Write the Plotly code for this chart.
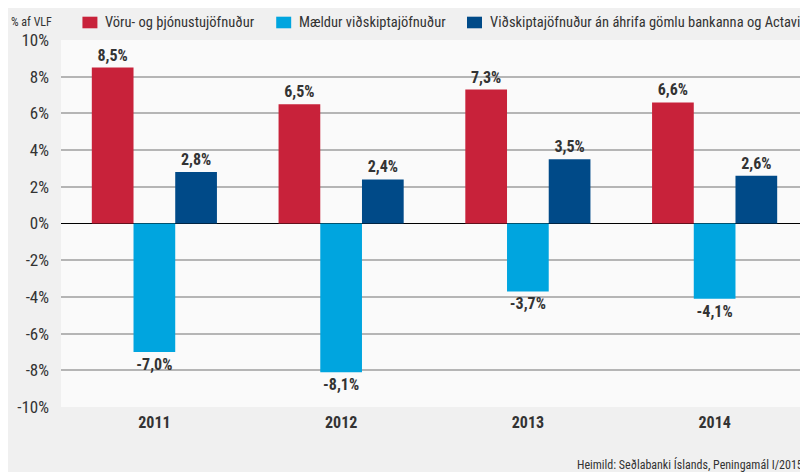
import plotly.graph_objects as go

years = ["2011", "2012", "2013", "2014"]
vorur = [8.5, 6.5, 7.3, 6.6]
maeldur = [-7.0, -8.1, -3.7, -4.1]
an_ahrifa = [2.8, 2.4, 3.5, 2.6]

names = ["Vöru- og þjónustujöfnuður", "Mældur viðskiptajöfnuður",
         "Viðskiptajöfnuður án áhrifa gömlu bankanna og Actavis"]
colors = ["#c8223a", "#00a5df", "#004a88"]

tick_vals = list(range(-10, 11, 2))
tick_text = [f"{v}%" for v in tick_vals]

# legend entry positions (paper coords), drawn by hand so it fits the width
legend_x = [0.0287, 0.2881, 0.5435]

FONT = "Liberation Sans Narrow, Roboto Condensed, Arial Narrow, sans-serif"


def lbl(v):
    return f"{v:.1f}%".replace(".", ",")


fig = go.Figure()
for name, vals, clr in zip(names, [vorur, maeldur, an_ahrifa], colors):
    fig.add_trace(go.Bar(
        x=years, y=vals, name=name,
        marker=dict(color=clr, line=dict(width=0)),
        text=[lbl(v) for v in vals], textposition="outside",
        texttemplate="<b>%{text}</b>",
        textfont=dict(family=FONT, size=16, color="#333333"),
        cliponaxis=False,
    ))

# page has an 8px body margin, so the figure is 800x464 sitting at (8,8)
fig.update_layout(
    width=800, height=464,
    barmode="group", bargap=0.33, bargroupgap=0,
    paper_bgcolor="#f0f0f0", plot_bgcolor="#fafafa",
    margin=dict(l=52.5, r=0, t=32, b=65, autoexpand=False),
    font=dict(family=FONT, size=15, color="#333333"),
    showlegend=False,
)
fig.update_xaxes(range=[-0.5, 3.5], showgrid=False, ticks="",
                 tickvals=years, ticktext=[f"<b>{y}</b>" for y in years],
                 tickfont=dict(size=16, color="#333333"),
                 ticklabelstandoff=4)
fig.update_yaxes(range=[-10, 10], tickvals=tick_vals, ticktext=tick_text,
                 showgrid=True, gridcolor="#b5b5b5", gridwidth=1.5,
                 zeroline=True, zerolinecolor="#000000", zerolinewidth=1.2,
                 tickfont=dict(size=17), ticklabelstandoff=11)

sq_w = 15 / 748
for name, clr, lx in zip(names, colors, legend_x):
    fig.add_shape(type="rect", xref="paper", yref="paper",
                  x0=lx, x1=lx + sq_w, y0=1.0319, y1=1.0635,
                  fillcolor=clr, line=dict(width=0))
    fig.add_annotation(text=name, xref="paper", yref="paper",
                       x=lx + sq_w + 6 / 748, y=1.0477,
                       xanchor="left", yanchor="middle", showarrow=False,
                       font=dict(size=14.5, color="#333333"))

fig.add_annotation(text="% af VLF", xref="paper", yref="paper", x=-0.07, y=1.048,
                   xanchor="left", yanchor="middle", showarrow=False,
                   font=dict(size=12, color="#333333"))
fig.add_annotation(text="Heimild: Seðlabanki Íslands, Peningamál I/2015.", xref="paper", yref="paper",
                   x=1.0, y=-0.13, xanchor="right", yanchor="top", showarrow=False,
                   font=dict(size=12, color="#333333"))

fig.write_html("out.html")
